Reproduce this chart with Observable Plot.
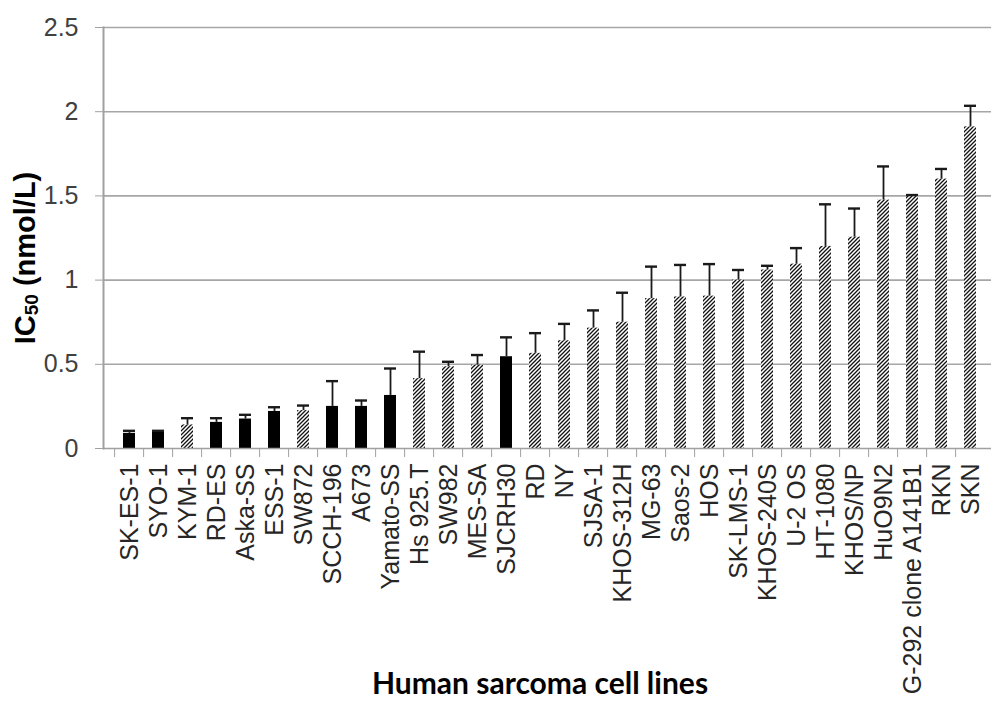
<!DOCTYPE html>
<html><head><meta charset="utf-8">
<script src="https://cdn.jsdelivr.net/npm/d3@7"></script>
<script src="https://cdn.jsdelivr.net/npm/@observablehq/plot@0.6"></script>
<style>body{margin:0;background:#fff} #chart{width:991px;height:704px;overflow:hidden}</style>
</head><body><div id="chart"></div>
<script>
const cellLines = ["SK-ES-1","SYO-1","KYM-1","RD-ES","Aska-SS","ESS-1","SW872","SCCH-196","A673","Yamato-SS","Hs 925.T","SW982","MES-SA","SJCRH30","RD","NY","SJSA-1","KHOS-312H","MG-63","Saos-2","HOS","SK-LMS-1","KHOS-240S","U-2 OS","HT-1080","KHOS/NP","HuO9N2","G-292 clone A141B1","RKN","SKN"];
const ic50 = [0.09,0.10,0.14,0.155,0.175,0.22,0.225,0.25,0.25,0.315,0.415,0.485,0.495,0.545,0.565,0.64,0.715,0.75,0.89,0.90,0.905,1.0,1.06,1.095,1.2,1.255,1.475,1.5,1.6,1.91];
const errUp = [0.015,0.005,0.04,0.025,0.025,0.025,0.03,0.15,0.035,0.16,0.16,0.03,0.06,0.115,0.12,0.1,0.105,0.175,0.19,0.19,0.19,0.06,0.025,0.095,0.25,0.17,0.2,0.005,0.06,0.125];
const solidBar = [true,true,false,true,true,true,false,true,true,true,false,false,false,true,false,false,false,false,false,false,false,false,false,false,false,false,false,false,false,false];
const yTicks = [0,0.5,1,1.5,2,2.5];
const yTitleParts = ["IC","50"," (nmol/L)"];
const xTitle = "Human sarcoma cell lines";

const data = cellLines.map((name,i)=>({name, v: ic50[i], e: errUp[i], solid: solidBar[i]}));
const xRange = [102.6, 996];
const step = (xRange[1]-xRange[0]) / cellLines.length;
const axisGrey = "#a0a0a0";

const chart = Plot.plot({
  width: 991, height: 704,
  marginLeft: 103, marginRight: 0, marginTop: 27, marginBottom: 256,
  style: {fontFamily: "'Liberation Sans', Arial, sans-serif", background: "#fff"},
  x: {domain: cellLines, range: xRange, paddingInner: 0.6, paddingOuter: 0.3},
  y: {domain: [0, 2.5]},
  marks: [
    Plot.gridY(yTicks.slice(1), {stroke: "#a6a6a6", strokeOpacity: 1, strokeWidth: 1.6}),
    Plot.barY(data.filter(d => d.solid), {x: "name", y: "v", fill: "#000"}),
    Plot.barY(data.filter(d => !d.solid), {x: "name", y: "v", fill: "url(#hatch)"}),
    Plot.ruleX(data, {x: "name", y1: "v", y2: d => d.v + d.e, stroke: "#1a1a1a", strokeWidth: 1.8}),
    Plot.tickY(data, {x: "name", y: d => d.v + d.e, stroke: "#1a1a1a", strokeWidth: 2.4}),
    Plot.ruleY([0], {stroke: axisGrey, strokeWidth: 1.6}),
    Plot.frame({anchor: "left", stroke: axisGrey, strokeWidth: 2}),
    Plot.axisY({ticks: yTicks, tickSize: 8, tickPadding: 17, fontSize: 25, label: null, stroke: axisGrey, fill: "#404040", tickFormat: d => String(d)}),
    Plot.axisX({text: null, tickSize: 9, dx: -step/2, stroke: axisGrey, label: null}),
    Plot.axisX({tickSize: 0, tickRotate: -90, tickPadding: 15, fontSize: 25, fill: "#262626", label: null})
  ]
});

const svg = d3.select(chart);
const defs = svg.insert("defs", ":first-child");
const pat = defs.append("pattern").attr("id", "hatch").attr("patternUnits", "userSpaceOnUse").attr("width", 4).attr("height", 4);
pat.append("rect").attr("width", 4).attr("height", 4).attr("fill", "#fff");
pat.append("path").attr("d", "M-1,1 L1,-1 M0,4 L4,0 M3,5 L5,3").attr("stroke", "#111").attr("stroke-width", 1.3);

const yt = svg.append("text")
  .attr("transform", "translate(35,258) rotate(-90)")
  .attr("text-anchor", "middle")
  .attr("font-family", "'Liberation Sans', Arial, sans-serif")
  .attr("font-weight", "bold").attr("font-size", 29).attr("fill", "#000");
yt.append("tspan").text(yTitleParts[0]);
yt.append("tspan").attr("font-size", 19).attr("dy", 3).text(yTitleParts[1]);
yt.append("tspan").attr("dy", -3).text(yTitleParts[2]);

svg.append("text")
  .attr("x", 540).attr("y", 694)
  .attr("text-anchor", "middle")
  .attr("font-family", "Lato, 'Open Sans', sans-serif")
  .attr("font-weight", "bold").attr("font-size", 30).attr("fill", "#000")
  .text(xTitle);

document.getElementById("chart").appendChild(chart);
</script>
</body></html>
